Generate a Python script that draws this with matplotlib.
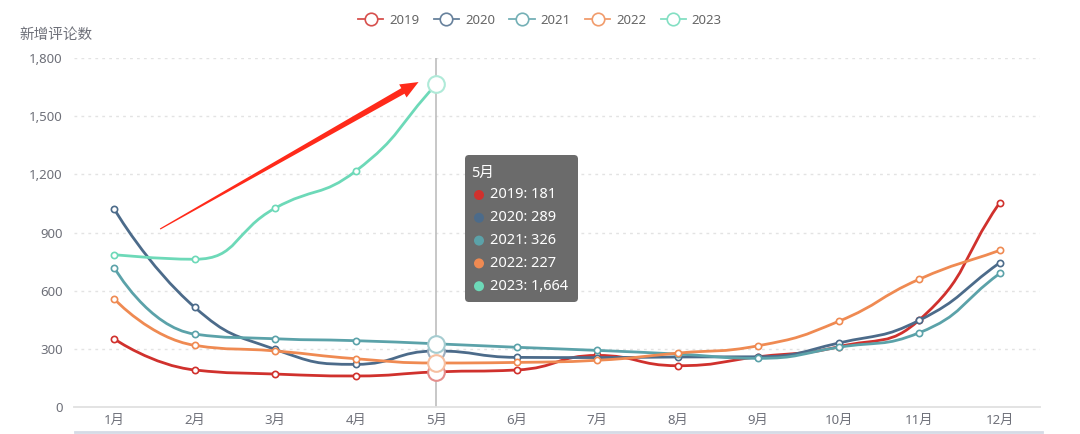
import matplotlib
matplotlib.use("Agg")
import matplotlib.pyplot as plt
import numpy as np
from matplotlib.path import Path
from matplotlib.patches import PathPatch, FancyBboxPatch, Polygon, Circle
from matplotlib.lines import Line2D
from matplotlib.transforms import Affine2D
from matplotlib.ticker import FuncFormatter

plt.rcParams["font.family"] = ["Noto Sans", "Noto Sans CJK SC", "DejaVu Sans"]

W, H = 1080, 434

months = [f"{i}月" for i in range(1, 13)]
years = ["2019", "2020", "2021", "2022", "2023"]
v2019 = [351, 191, 170, 160, 181, 191, 266, 213, 259, 311, 449, 1054]
v2020 = [1021, 514, 297, 220, 289, 256, 255, 258, 259, 330, 447, 744]
v2021 = [718, 376, 352, 342, 326, 308, 292, 273, 251, 308, 383, 689]
v2022 = [557, 318, 289, 249, 227, 230, 241, 278, 316, 442, 659, 808]
v2023 = [786, 762, 1026, 1217, 1664]
series = [v2019, v2020, v2021, v2022, v2023]
colors = ["#d0312d", "#4c6b8a", "#5ba2a9", "#ef8a52", "#6dd9b8"]
hover_month = 4  # 5月
y_ticks = [0, 300, 600, 900, 1200, 1500, 1800]

# annotation arrow, in (month index, value)
arrow_from = (0.57, 918)
arrow_to = (3.78, 1676)


def lighten(c, f=0.45):
    rgb = np.array(matplotlib.colors.to_rgb(c))
    return tuple(rgb + (1 - rgb) * f)


def clamp(v, a, b):
    return np.minimum(np.maximum(v, np.minimum(a, b)), np.maximum(a, b))


def smooth_path(xs, ys, sx, sy, smooth=0.5):
    # echarts-style bezier smoothing with the smooth constraint
    pts = np.column_stack([xs, ys]).astype(float)
    scale = np.array([sx, sy])
    n = len(pts)
    verts = [pts[0]]
    codes = [Path.MOVETO]
    cp0 = pts[0].copy()
    for i in range(1, n):
        cur = pts[i]
        prev = pts[i - 1]
        nxt = pts[i + 1] if i + 1 < n else cur
        v = (nxt - prev) * smooth
        lp = np.hypot(*((cur - prev) * scale))
        ln = np.hypot(*((cur - nxt) * scale))
        if ln == 0:
            cp1 = clamp(cur - v, prev, cur)
            next_cp0 = cur
        else:
            r = ln / (ln + lp)
            next_cp0 = clamp(cur + v * r, nxt, cur)
            cp1 = cur - (next_cp0 - cur) * lp / ln
            cp1 = clamp(cp1, prev, cur)
            next_cp0 = cur + (cur - cp1) * ln / lp
        verts += [cp0, cp1, cur]
        codes += [Path.CURVE4] * 3
        cp0 = next_cp0
    return Path(verts, codes)


fig = plt.figure(figsize=(W / 100, H / 100), dpi=100)
ax = fig.add_axes([74 / W, 27 / H, (1040 - 74) / W, (407 - 58) / H])
ax.set_xlim(-0.5, 11.5)
ax.set_ylim(0, 1800)
for s in ["top", "right", "left"]:
    ax.spines[s].set_visible(False)
ax.spines["bottom"].set_color("#e0e0e0")
ax.spines["bottom"].set_linewidth(1.3)

ax.set_xticks(range(12))
ax.set_xticklabels(months)
ax.set_yticks(y_ticks)
ax.yaxis.set_major_formatter(FuncFormatter(lambda v, p: f"{int(v):,}"))
ax.tick_params(axis="both", length=0, labelsize=9.5, colors="#6e7079")
ax.tick_params(axis="x", pad=5)
ax.tick_params(axis="y", pad=8)
for yv in y_ticks[1:]:
    ax.axhline(yv, color="#e3e3e3", lw=1, ls=(0, (2, 3)), zorder=0)

ax.axvline(hover_month, color="#bdbdbd", lw=1.2, zorder=1)

px_x = (1040 - 74) / 12
px_y = (407 - 58) / 1800
for i, (vals, c) in enumerate(zip(series, colors)):
    xs = np.arange(len(vals))
    ax.add_patch(PathPatch(smooth_path(xs, vals, px_x, px_y), fill=False,
                           edgecolor=c, lw=2, zorder=2 + i, capstyle="round"))
    mask = xs != hover_month
    ax.plot(xs[mask], np.array(vals)[mask], "o", ms=4.5, mfc="white", mec=c,
            mew=1.2, zorder=2.5 + i)
    ax.plot([hover_month], [vals[hover_month]], "o", ms=12, mfc="white",
            mec=lighten(c), mew=1.5, zorder=10 + i)

ax.set_title("新增评论数", loc="left", x=-0.056, y=1.03, fontsize=10.5,
             color="#6e7079")

# red arrow
p0 = ax.transData.transform(arrow_from)
p1 = ax.transData.transform(arrow_to)
u = (p1 - p0) / np.hypot(*(p1 - p0))
nrm = np.array([-u[1], u[0]])
head_len, head_w, shaft_w, tail_w = 18, 7.5, 3.2, 0.6
base = p1 - u * head_len
arrow_pts = [p0 + nrm * tail_w, base + nrm * shaft_w, base + nrm * head_w, p1,
             base - nrm * head_w, base - nrm * shaft_w, p0 - nrm * tail_w]
fig.patches.append(Polygon(arrow_pts, closed=True, fc="#ff2a1a", ec="none",
                           transform=None, zorder=20))

# tooltip
pix = Affine2D().scale(1, -1).translate(0, H)
fig.patches.append(FancyBboxPatch((465, 155), 113, 147,
                                  boxstyle="round,pad=0,rounding_size=4",
                                  fc="#6b6b6b", ec="none", transform=pix,
                                  zorder=30))
fig.text(471, 173, months[hover_month], color="white", fontsize=10.5,
         va="center", transform=pix, zorder=31)
for k, (yr, vals, c) in enumerate(zip(years, series, colors)):
    yy = 195 + k * 22.8
    fig.patches.append(Circle((479, yy), 5, fc=c, ec="none", transform=pix,
                              zorder=31))
    fig.text(490, yy, f"{yr}: {vals[hover_month]:,}", color="white",
             fontsize=10.5, va="center", transform=pix, zorder=31)

# legend
handles = [Line2D([], [], color=lighten(c, 0.15), lw=1.3, marker="o", ms=9,
                  mfc="white", mec=lighten(c, 0.15), mew=1.2) for c in colors]
fig.legend(handles, years, loc="center", bbox_to_anchor=(540 / W, 1 - 20 / H),
           ncol=5, frameon=False, fontsize=9.5, labelcolor="#666666",
           handlelength=1.9, handletextpad=0.45, columnspacing=1.1)

# bottom border line
fig.add_artist(Line2D([75 / W, 1042 / W], [1 - 432 / H] * 2, color="#d5dbe6",
                      lw=2, transform=fig.transFigure))

fig.savefig("out.png", dpi=100)
